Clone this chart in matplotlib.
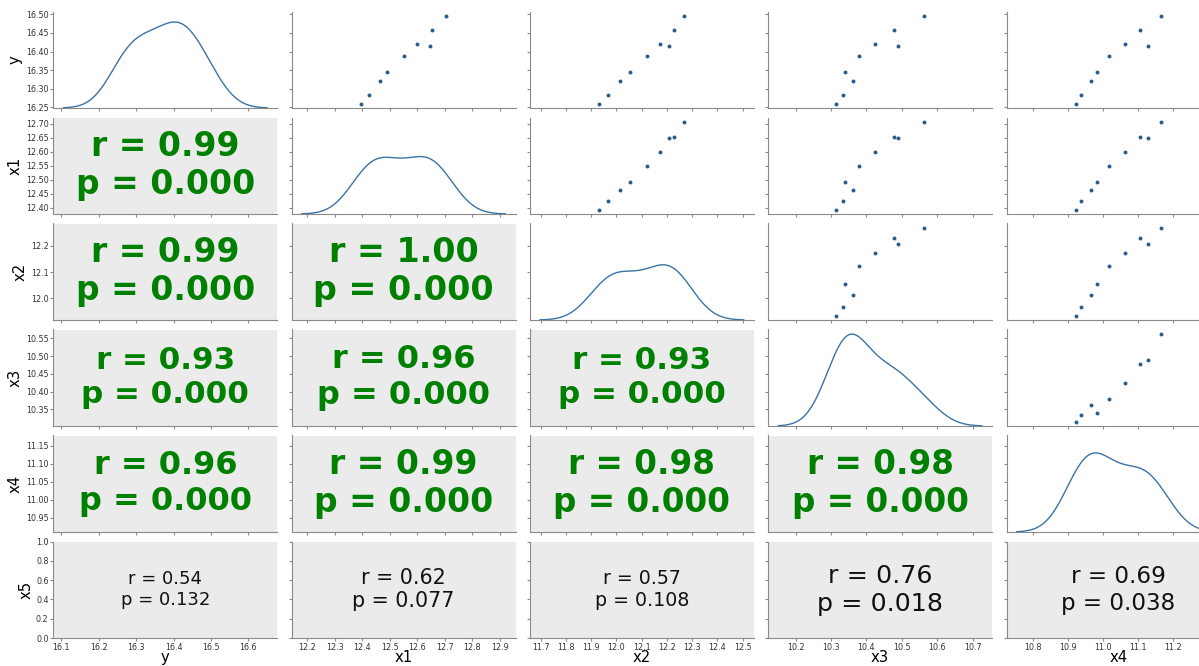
import numpy as np
import matplotlib
matplotlib.use("Agg")
import matplotlib.pyplot as plt
from matplotlib.ticker import MultipleLocator

y_vals = [16.260, 16.282, 16.320, 16.346, 16.388, 16.420, 16.416, 16.457, 16.496]
x1_vals = [12.394, 12.423, 12.463, 12.491, 12.550, 12.600, 12.647, 12.654, 12.706]
x2_vals = [11.933, 11.966, 12.013, 12.053, 12.123, 12.174, 12.209, 12.230, 12.269]
x3_vals = [10.315, 10.334, 10.363, 10.339, 10.379, 10.423, 10.489, 10.477, 10.563]
x4_vals = [10.923, 10.939, 10.967, 10.984, 11.018, 11.064, 11.128, 11.107, 11.167]

col_names = ["y", "x1", "x2", "x3", "x4"]
row_names = ["y", "x1", "x2", "x3", "x4", "x5"]
data = {"y": y_vals, "x1": x1_vals, "x2": x2_vals, "x3": x3_vals, "x4": x4_vals}

# correlation labels for the lower triangle, one list per row (rows x1..x5)
r_lower = [[0.99],
           [0.99, 1.00],
           [0.93, 0.96, 0.93],
           [0.96, 0.99, 0.98, 0.98],
           [0.54, 0.62, 0.57, 0.76, 0.69]]
p_lower = [[0.000],
           [0.000, 0.000],
           [0.000, 0.000, 0.000],
           [0.000, 0.000, 0.000, 0.000],
           [0.132, 0.077, 0.108, 0.018, 0.038]]

x_steps = [0.1, 0.1, 0.1, 0.1, 0.1]
y_steps = [0.05, 0.05, 0.1, 0.05, 0.05, 0.2]

W, H = 1199, 666
fig = plt.figure(figsize=(W / 100, H / 100), dpi=100)

left0, col_w, col_pitch = 53.3, 224.0, 238.3
top0, row_h, row_pitch = 11.5, 96.5, 106.0

spine_col = "#8a8a8a"
blue = "#2b5d8c"


def kde(vals, n=200, cut=3):
    v = np.asarray(vals)
    bw = v.std(ddof=1) * len(v) ** (-1 / 5)
    grid = np.linspace(v.min() - cut * bw, v.max() + cut * bw, n)
    dens = np.exp(-0.5 * ((grid[:, None] - v[None, :]) / bw) ** 2).sum(1)
    dens /= len(v) * bw * np.sqrt(2 * np.pi)
    return grid, dens


axes = {}
col_first = {}
row_first = {}
diag_twins = []
for i, rn in enumerate(row_names):
    for j, cn in enumerate(col_names):
        x0 = (left0 + j * col_pitch) / W
        y0 = 1 - (top0 + i * row_pitch + row_h) / H
        ax = fig.add_axes([x0, y0, col_w / W, row_h / H],
                          sharex=col_first.get(j), sharey=row_first.get(i))
        col_first.setdefault(j, ax)
        row_first.setdefault(i, ax)
        axes[i, j] = ax
        for s in ["top", "right"]:
            ax.spines[s].set_visible(False)
        for s in ["left", "bottom"]:
            ax.spines[s].set_color(spine_col)
        ax.tick_params(labelsize=5.8, length=2.2, color=spine_col,
                       labelcolor="#333333", pad=1.2)
        if j > 0:
            ax.tick_params(labelleft=False)
        if i < len(row_names) - 1:
            ax.tick_params(labelbottom=False)

        if i == j:
            d = data[cn]
            ax.plot(d, d, linestyle="none")  # keeps row limits on the data range
            tw = ax.twinx()
            tw.set_axis_off()
            if diag_twins:
                tw.sharey(diag_twins[0])
            diag_twins.append(tw)
            gx, gy = kde(d)
            ln, = tw.plot(gx, gy, color="#3b73a6", lw=1.0)
            ln.sticky_edges.y[:] = [0]
        elif j > i:
            ax.scatter(data[cn], data[rn], s=8, color=blue, linewidths=0)
        else:
            ax.set_facecolor("#ebebeb")
            r = r_lower[i - 1][j]
            p = p_lower[i - 1][j]
            strong = p < 0.001
            ax.text(0.5, 0.5, f"r = {r:.2f}\np = {p:.3f}",
                    transform=ax.transAxes, ha="center", va="center",
                    fontsize=24 * r,
                    color="green" if strong else "#111111",
                    fontweight="bold" if strong else "normal")

        ax.xaxis.set_major_locator(MultipleLocator(x_steps[j]))
        ax.yaxis.set_major_locator(MultipleLocator(y_steps[i]))
        if j == 0:
            ax.set_ylabel(rn, fontsize=10.7, labelpad=2)
        if i == len(row_names) - 1:
            ax.set_xlabel(cn, fontsize=10.7, labelpad=-1)

for i in range(len(row_names)):
    axes[i, 0].yaxis.set_major_formatter(
        "{x:.1f}" if y_steps[i] >= 0.1 else "{x:.2f}")
for j in range(len(col_names)):
    axes[len(row_names) - 1, j].xaxis.set_major_formatter("{x:.1f}")

fig.savefig("out.png", dpi=100)
